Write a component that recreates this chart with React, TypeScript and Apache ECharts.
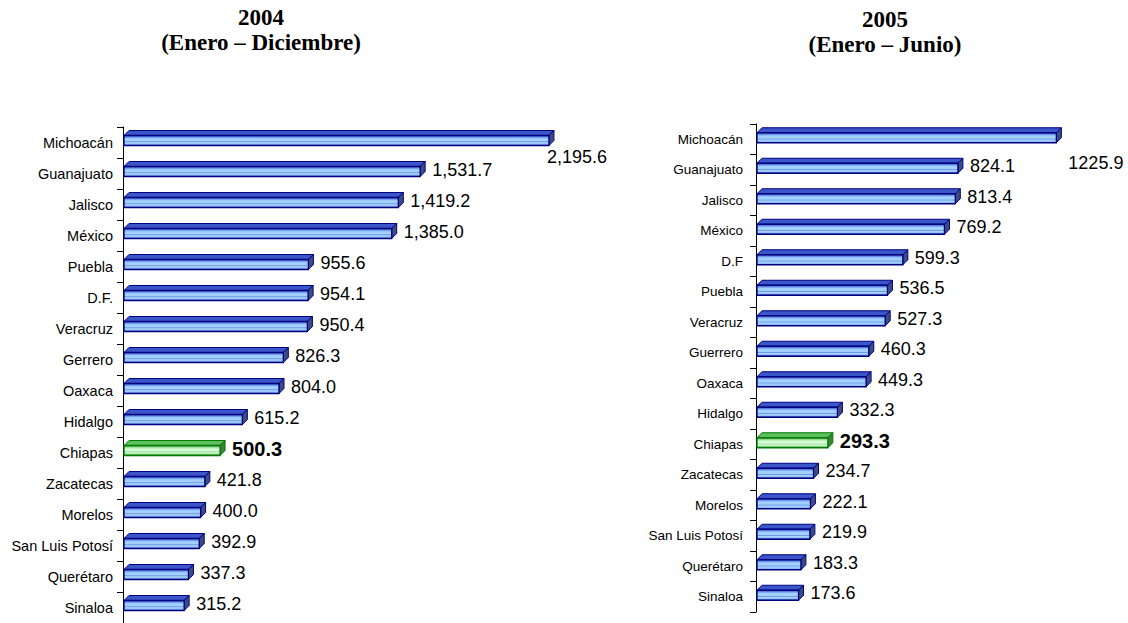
import React, { useEffect, useRef } from "react";
import * as echarts from "echarts";

// ---- Data ----
const states2004 = [
  "Michoacán", "Guanajuato", "Jalisco", "México", "Puebla", "D.F.", "Veracruz", "Gerrero",
  "Oaxaca", "Hidalgo", "Chiapas", "Zacatecas", "Morelos", "San Luis Potosí", "Querétaro", "Sinaloa",
];
const values2004 = [
  2195.6, 1531.7, 1419.2, 1385.0, 955.6, 954.1, 950.4, 826.3,
  804.0, 615.2, 500.3, 421.8, 400.0, 392.9, 337.3, 315.2,
];
const states2005 = [
  "Michoacán", "Guanajuato", "Jalisco", "México", "D.F", "Puebla", "Veracruz", "Guerrero",
  "Oaxaca", "Hidalgo", "Chiapas", "Zacatecas", "Morelos", "San Luis Potosí", "Querétaro", "Sinaloa",
];
const values2005 = [
  1225.9, 824.1, 813.4, 769.2, 599.3, 536.5, 527.3, 460.3,
  449.3, 332.3, 293.3, 234.7, 222.1, 219.9, 183.3, 173.6,
];
const highlightState = "Chiapas";
const title2004 = "2004\n(Enero – Diciembre)";
const title2005 = "2005\n(Enero – Junio)";

const fmt2004 = (v: number) =>
  v.toLocaleString("en-US", { minimumFractionDigits: 1, maximumFractionDigits: 1 });
const fmt2005 = (v: number) => v.toFixed(1);

const SANS = "Liberation Sans, Arial, sans-serif";
const SERIF = "Liberation Serif, Times New Roman, serif";

const blueFront = () =>
  new echarts.graphic.LinearGradient(0, 0, 0, 1, [
    { offset: 0, color: "#2a48b8" },
    { offset: 0.18, color: "#6d98ee" },
    { offset: 0.32, color: "#a2d0ff" },
    { offset: 0.55, color: "#a2d0ff" },
    { offset: 0.62, color: "#6c95e0" },
    { offset: 0.72, color: "#a8d6ff" },
    { offset: 0.88, color: "#8ebcf8" },
    { offset: 1, color: "#23399e" },
  ]);
const greenFront = () =>
  new echarts.graphic.LinearGradient(0, 0, 0, 1, [
    { offset: 0, color: "#3a9a3a" },
    { offset: 0.2, color: "#9ee09e" },
    { offset: 0.35, color: "#d4ffd4" },
    { offset: 0.55, color: "#d4ffd4" },
    { offset: 0.62, color: "#9edc9e" },
    { offset: 0.75, color: "#d8ffd8" },
    { offset: 1, color: "#2f8f2f" },
  ]);

function makeRender(
  cats: string[],
  fmt: (v: number) => string,
  firstShift: [number, number],
  frontShift: number
) {
  return (params: any, api: any) => {
    const idx = params.dataIndex;
    const v = api.value(0);
    const ci = api.value(1);
    const end = api.coord([v, ci]);
    const start = api.coord([0, ci]);
    const h = 10;
    const d = 5;
    const cy = end[1] + frontShift;
    const x0 = start[0] + 1;
    const x1 = end[0];
    const yT = cy - h / 2;
    const yB = cy + h / 2;
    const hl = cats[idx] === highlightState;
    const stroke = hl ? "#007a00" : "#000080";
    const topFill = hl ? "#5cc05c" : "#3a56c8";
    const sideFill = hl ? "#3f7f3f" : "#3d4c80";
    let lx = x1 + d + 7;
    let ly = cy - 2;
    if (idx === 0) {
      lx += firstShift[0];
      ly += firstShift[1];
    }
    return {
      type: "group",
      children: [
        {
          type: "polygon",
          shape: { points: [[x0, yT], [x0 + d, yT - d], [x1 + d, yT - d], [x1, yT]] },
          style: { fill: topFill, stroke, lineWidth: 1 },
        },
        {
          type: "polygon",
          shape: { points: [[x1, yT], [x1 + d, yT - d], [x1 + d, yB - d], [x1, yB]] },
          style: { fill: sideFill, stroke, lineWidth: 1 },
        },
        {
          type: "rect",
          shape: { x: x0, y: yT, width: x1 - x0, height: h },
          style: { fill: hl ? greenFront() : blueFront(), stroke, lineWidth: 1.3 },
        },
        {
          type: "text",
          style: {
            text: fmt(v),
            x: lx,
            y: ly,
            align: "left",
            verticalAlign: "middle",
            fontSize: hl ? 20 : 18,
            fontWeight: hl ? "bold" : "normal",
            fontFamily: SANS,
            fill: "#000",
          },
        },
      ],
    };
  };
}

function yAxisFor(gridIndex: number, cats: string[], fontSize: number, margin: number) {
  return {
    type: "category",
    gridIndex,
    data: cats,
    inverse: true,
    axisLine: { show: true, lineStyle: { color: "#000", width: 1 } },
    axisTick: { show: true, length: 6, lineStyle: { color: "#000" } },
    axisLabel: { color: "#000", fontSize, fontFamily: SANS, margin },
    splitLine: { show: false },
  };
}

export default function App() {
  const ref = useRef<HTMLDivElement>(null);
  useEffect(() => {
    if (!ref.current) return;
    const chart = echarts.init(ref.current, undefined, { renderer: "svg" });
    const titleStyle = {
      fontFamily: SERIF,
      fontWeight: "bold",
      fontSize: 23,
      lineHeight: 25,
      color: "#000",
    };
    chart.setOption({
      animation: false,
      backgroundColor: "#fff",
      title: [
        { text: title2004, left: 256, top: 0, textAlign: "center", textStyle: titleStyle },
        { text: title2005, left: 880, top: 2, textAlign: "center", textStyle: titleStyle },
      ],
      grid: [
        { left: 123, top: 127, width: 485, height: 501, containLabel: false },
        { left: 756, top: 124, width: 343, height: 488, containLabel: false },
      ],
      xAxis: [
        { type: "value", gridIndex: 0, min: 0, max: 2500, show: false },
        { type: "value", gridIndex: 1, min: 0, max: 1400, show: false },
      ],
      yAxis: [yAxisFor(0, states2004, 14.5, 10), yAxisFor(1, states2005, 13.5, 13)],
      series: [
        {
          type: "custom",
          xAxisIndex: 0,
          yAxisIndex: 0,
          clip: false,
          encode: { x: 0, y: 1 },
          data: values2004.map((v, i) => [v, i]),
          renderItem: makeRender(states2004, fmt2004, [-14, 18], -2),
        },
        {
          type: "custom",
          xAxisIndex: 1,
          yAxisIndex: 1,
          clip: false,
          encode: { x: 0, y: 1 },
          data: values2005.map((v, i) => [v, i]),
          renderItem: makeRender(states2005, fmt2005, [0, 27], -1.5),
        },
      ],
    });
    return () => chart.dispose();
  }, []);
  return (
    <div
      ref={ref}
      style={{ position: "fixed", left: 0, top: 0, width: 1128, height: 623, background: "#fff" }}
    />
  );
}
